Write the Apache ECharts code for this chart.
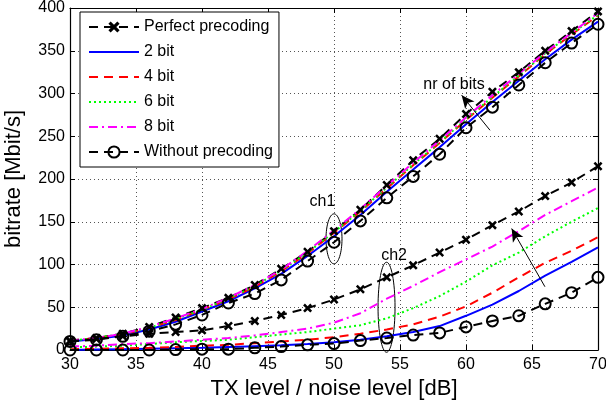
<!DOCTYPE html>
<html>
  <head>
    <meta charset="utf-8" />
    <title>ECharts</title>
    <style type="text/css">
      html, body { margin: 0; padding: 0; background: #fff; }
      #main { width: 606px; height: 403px; }
    </style>
    <script type="text/javascript" src="https://cdn.jsdelivr.net/npm/echarts@6/dist/echarts.min.js"></script>
  </head>
  <body>
    <div id="main"></div>
    <script type="text/javascript">
    // x axis: TX level / noise level in dB, one point every 2 dB
    var snrDb = [30, 32, 34, 36, 38, 40, 42, 44, 46, 48, 50, 52, 54, 56, 58, 60, 62, 64, 66, 68, 70];
    var xTicks = [30, 35, 40, 45, 50, 55, 60, 65, 70];
    var yTicks = [0, 50, 100, 150, 200, 250, 300, 350, 400];

    // channel 1 (upper bundle)
    var ch1Perfect = [11, 14, 19, 27, 38, 49, 61, 76, 95, 115, 139, 164, 193, 222, 247, 276, 302, 325, 350, 373, 396];
    var ch1Bit2    = [10, 13, 17, 24, 33, 45, 57, 72, 89, 110, 133, 158, 185, 211, 237, 264, 290, 315, 340, 363, 384];
    var ch1Bit4    = [11, 14, 18, 26, 35, 47, 59, 74, 92, 113, 137, 162, 189, 216, 242, 269, 295, 320, 346, 369, 391];
    var ch1Bit6    = [11, 14, 19, 26, 36, 47, 60, 75, 93, 114, 138, 163, 190, 217, 243, 270, 296, 321, 347, 370, 392];
    var ch1Bit8    = [11, 14, 19, 27, 37, 48, 61, 76, 94, 116, 140, 165, 192, 219, 245, 272, 298, 323, 348, 371, 394];
    var ch1None    = [10, 12, 16, 22, 30, 41, 55, 66, 82, 104, 126, 151, 178, 203, 229, 260, 284, 310, 336, 359, 381];

    // channel 2 (lower bundle)
    var ch2Perfect = [10, 13, 16, 19, 21, 23, 28, 34, 41, 49, 59, 71, 85, 99, 114, 129, 146, 162, 180, 196, 215];
    var ch2Bit2    = [0, 0.5, 1, 1.5, 2, 2.5, 3.5, 4.5, 5.5, 7, 9, 12, 16, 21, 28, 40, 53, 69, 87, 103, 120];
    var ch2Bit4    = [1, 1.5, 2, 2.5, 3.5, 5, 6, 8, 10, 12, 15, 19, 24, 30, 39, 51, 67, 85, 102, 116, 132];
    var ch2Bit6    = [3, 4, 5, 7, 9, 10.5, 12, 15, 18, 21, 25, 29, 37, 49, 63, 80, 99, 114, 133, 150, 166];
    var ch2Bit8    = [4, 5, 7, 8, 10, 12, 14, 17, 21, 25, 32, 43, 60, 75, 91, 106, 121, 139, 158, 174, 190];
    var ch2None    = [0, 0, 0, 0, 0.5, 1, 1, 2.5, 4, 6, 7.5, 11, 14, 17.5, 20, 27, 34, 40, 54, 67, 85];

    var names = ['Perfect precoding', '2 bit', '4 bit', '6 bit', '8 bit', 'Without precoding'];

    var font = "'Liberation Sans', Arial, Helvetica, sans-serif";
    var xMark = 'path://M0,2L2,0L5,3L8,0L10,2L7,5L10,8L8,10L5,7L2,10L0,8L3,5Z';

    function pairs(ys) {
      return snrDb.map(function (x, i) { return [x, ys[i]]; });
    }

    var styles = [
      { color: '#000000', type: [9, 6], symbol: xMark, size: 9, fill: '#000000' },
      { color: '#0000ff', type: 'solid', symbol: 'none' },
      { color: '#ff0000', type: [9, 6], symbol: 'none' },
      { color: '#00ff00', type: [2, 3], symbol: 'none' },
      { color: '#ff00ff', type: [9, 4, 2, 4], symbol: 'none' },
      { color: '#000000', type: [9, 6], symbol: 'circle', size: 11, fill: 'rgba(0,0,0,0)' }
    ];

    function makeSeries(name, ys, st) {
      return {
        name: name,
        type: 'line',
        data: pairs(ys),
        symbol: st.symbol,
        symbolSize: st.size || 0,
        showSymbol: st.symbol !== 'none',
        lineStyle: { color: st.color, width: 2, type: st.type },
        itemStyle: st.symbol === 'circle'
          ? { color: st.fill, borderColor: '#000', borderWidth: 2 }
          : { color: st.color },
        emphasis: { disabled: true }
      };
    }

    var ch1 = [ch1Perfect, ch1Bit2, ch1Bit4, ch1Bit6, ch1Bit8, ch1None];
    var ch2 = [ch2Perfect, ch2Bit2, ch2Bit4, ch2Bit6, ch2Bit8, ch2None];
    var series = [];
    for (var i = 0; i < names.length; i++) series.push(makeSeries(names[i], ch1[i], styles[i]));
    for (var j = 0; j < names.length; j++) series.push(makeSeries(names[j], ch2[j], styles[j]));

    // legend entries: hide the marker for plain lines
    var legendData = names.map(function (n, k) {
      if (styles[k].symbol === 'none') {
        return { name: n, itemStyle: { color: 'rgba(0,0,0,0)', borderWidth: 0, opacity: 0 } };
      }
      return { name: n };
    });

    // annotation arrows, in data units
    var arrowBits1 = [[61.82, 257], [59.67, 298]];
    var arrowBits2 = [[65.98, 74], [63.46, 142]];
    series.push({
      name: 'arrows',
      type: 'line',
      data: [],
      markLine: {
        silent: true,
        animation: false,
        symbol: ['none', 'arrow'],
        symbolSize: [9, 13],
        label: { show: false },
        lineStyle: { color: '#000', width: 1, type: 'solid' },
        data: [
          [{ coord: arrowBits1[0] }, { coord: arrowBits1[1] }],
          [{ coord: arrowBits2[0] }, { coord: arrowBits2[1] }]
        ]
      }
    });

    var tickStyle = { show: true, inside: true, length: 5, lineStyle: { color: '#000', width: 1 } };
    var lineStyle = { show: true, onZero: false, lineStyle: { color: '#000', width: 1.2 } };
    var gridLine = { show: true, lineStyle: { color: '#555', width: 1, type: [1, 3] } };

    var dom = document.getElementById('main');
    var myChart = echarts.init(dom, null, { renderer: 'canvas' });

    var option = {
      animation: false,
      backgroundColor: '#fff',
      textStyle: { fontFamily: font },
      grid: { left: 70, right: 8, top: 8, bottom: 53, containLabel: false, outerBoundsMode: 'none' },
      legend: {
        data: legendData,
        orient: 'vertical',
        left: 80,
        top: 12,
        padding: [7, 6, 7, 8],
        itemWidth: 50,
        itemHeight: 14,
        itemGap: 9,
        backgroundColor: '#fff',
        borderColor: '#000',
        borderWidth: 1,
        borderRadius: 0,
        textStyle: { fontSize: 16, color: '#000', fontFamily: font }
      },
      xAxis: [{
        type: 'value',
        min: xTicks[0],
        max: xTicks[xTicks.length - 1],
        interval: xTicks[1] - xTicks[0],
        position: 'bottom',
        name: 'TX level / noise level [dB]',
        nameLocation: 'middle',
        nameGap: 23,
        nameTextStyle: { fontSize: 22, color: '#000', fontFamily: font },
        axisLine: lineStyle,
        axisTick: tickStyle,
        axisLabel: { fontSize: 16, color: '#000', margin: 7, fontFamily: font },
        splitLine: gridLine
      }, {
        type: 'value',
        min: xTicks[0],
        max: xTicks[xTicks.length - 1],
        interval: xTicks[1] - xTicks[0],
        position: 'top',
        axisLine: lineStyle,
        axisTick: tickStyle,
        axisLabel: { show: false },
        splitLine: { show: false }
      }],
      yAxis: [{
        type: 'value',
        min: yTicks[0],
        max: yTicks[yTicks.length - 1],
        interval: yTicks[1] - yTicks[0],
        position: 'left',
        name: 'bitrate [Mbit/s]',
        nameLocation: 'middle',
        nameGap: 45,
        nameTextStyle: { fontSize: 22, color: '#000', fontFamily: font },
        axisLine: lineStyle,
        axisTick: tickStyle,
        axisLabel: { fontSize: 16, color: '#000', margin: 5, fontFamily: font },
        splitLine: gridLine
      }, {
        type: 'value',
        min: yTicks[0],
        max: yTicks[yTicks.length - 1],
        interval: yTicks[1] - yTicks[0],
        position: 'right',
        axisLine: lineStyle,
        axisTick: tickStyle,
        axisLabel: { show: false },
        splitLine: { show: false }
      }],
      series: series
    };

    myChart.setOption(option);

    // text labels and ellipses, anchored in data units
    var labelBits = [59.09, 310];
    var labelCh1 = [49.13, 173];
    var labelCh2 = [54.55, 110];
    var ellCh1 = [50.0, 130];
    var ellCh2 = [53.98, 50];

    function px(pt) { return myChart.convertToPixel({ gridIndex: 0 }, pt); }
    function label(txt, pt) {
      var p = px(pt);
      return {
        type: 'text', x: p[0], y: p[1], silent: true,
        style: { text: txt, fill: '#000', font: '16px ' + font, align: 'center', verticalAlign: 'middle' }
      };
    }
    function ellipse(pt, rx, ry) {
      var p = px(pt);
      return {
        type: 'ellipse', silent: true,
        shape: { cx: p[0], cy: p[1], rx: rx, ry: ry },
        style: { fill: 'none', stroke: '#000', lineWidth: 1 }
      };
    }

    myChart.setOption({
      graphic: [
        label('nr of bits', labelBits),
        label('ch1', labelCh1),
        label('ch2', labelCh2),
        ellipse(ellCh1, 8, 25),
        ellipse(ellCh2, 8.5, 45)
      ]
    });
    </script>
  </body>
</html>
